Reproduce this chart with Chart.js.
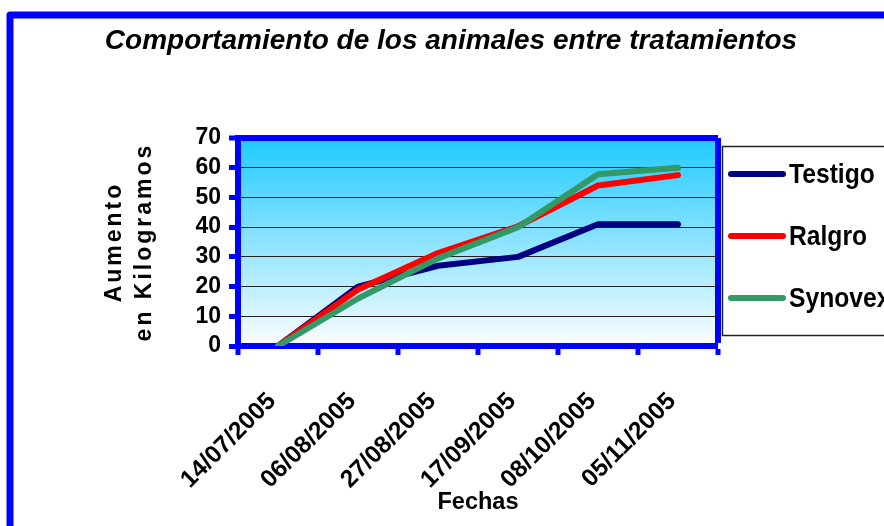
<!DOCTYPE html>
<html>
<head>
<meta charset="utf-8">
<script src="https://cdn.jsdelivr.net/npm/chart.js@4/dist/chart.umd.min.js"></script>
<style>
  html, body { margin: 0; padding: 0; background: #fff; }
  #wrap { width: 884px; height: 526px; }
</style>
</head>
<body>
<div id="wrap"><canvas id="c" width="884" height="526"></canvas></div>
<script>
const categories = ['14/07/2005', '06/08/2005', '27/08/2005', '17/09/2005', '08/10/2005', '05/11/2005'];
const testigo = [0, 20, 27, 30, 41, 41];
const ralgro  = [0, 19, 31.3, 40.3, 54, 57.5];
const synovex = [0, 16, 29.5, 40, 57.8, 60];
const seriesNames = ['Testigo', 'Ralgro', 'Synovex'];
const yMin = 0, yMax = 70, yStep = 10;

const BLUE = '#0000FF';
const FONT = '"Liberation Sans", Arial, sans-serif';

const frameAndBackground = {
  id: 'frameAndBackground',
  beforeDraw(chart) {
    const { ctx, chartArea: a } = chart;
    ctx.save();
    ctx.fillStyle = '#fff';
    ctx.fillRect(0, 0, chart.width, chart.height);
    ctx.strokeStyle = BLUE;
    ctx.lineWidth = 7;
    ctx.lineJoin = 'round';
    ctx.strokeRect(10, 15, chart.width + 40, chart.height + 40);
    const g = ctx.createLinearGradient(0, a.top, 0, a.bottom);
    g.addColorStop(0, 'rgb(30,202,255)');
    g.addColorStop(1, 'rgb(252,253,255)');
    ctx.fillStyle = g;
    ctx.fillRect(a.left, a.top, a.right - a.left, a.bottom - a.top);
    ctx.restore();
    const s = chart.scales.y;
    if (s && !s._spacedTitle) {
      const orig = Chart.Scale.prototype.drawTitle;
      s.drawTitle = function () {
        const c = this.ctx;
        c.save();
        c.letterSpacing = '3px';
        orig.call(this);
        c.restore();
      };
      s._spacedTitle = true;
    }
  }
};

const sideLegend = {
  id: 'sideLegend',
  afterDraw(chart) {
    const { ctx } = chart;
    ctx.save();
    ctx.strokeStyle = '#222';
    ctx.lineWidth = 1.5;
    ctx.strokeRect(722.5, 146.5, 200, 189);
    const rows = [174, 236, 298];
    chart.data.datasets.forEach((ds, i) => {
      const y = rows[i];
      ctx.strokeStyle = ds.borderColor;
      ctx.lineWidth = 6;
      ctx.lineCap = 'round';
      ctx.beginPath();
      ctx.moveTo(731, y);
      ctx.lineTo(783, y);
      ctx.stroke();
      ctx.save();
      ctx.translate(789, y + 1);
      ctx.scale(0.88, 1);
      ctx.fillStyle = '#000';
      ctx.font = 'bold 28px ' + FONT;
      ctx.textBaseline = 'middle';
      ctx.textAlign = 'left';
      ctx.fillText(ds.label, 0, 0);
      ctx.restore();
    });
    ctx.restore();
  }
};

const mk = (label, data, color, order) => ({
  label, data, borderColor: color, backgroundColor: color,
  borderWidth: 6, pointRadius: 0, tension: 0, order,
  borderCapStyle: 'round', borderJoinStyle: 'round', fill: false
});

new Chart(document.getElementById('c'), {
  type: 'line',
  data: {
    labels: categories,
    datasets: [
      mk(seriesNames[0], testigo, '#000080', 3),
      mk(seriesNames[1], ralgro, '#FF0000', 2),
      mk(seriesNames[2], synovex, '#339966', 1)
    ]
  },
  options: {
    responsive: false,
    animation: false,
    devicePixelRatio: 1,
    layout: { padding: { left: 18, right: 0, top: 0, bottom: 0 } },
    plugins: {
      legend: { display: false },
      tooltip: { enabled: false },
      title: {
        display: true,
        text: 'Comportamiento de los animales entre tratamientos',
        color: '#000',
        font: { family: FONT, size: 28, weight: 'bold', style: 'italic', lineHeight: 1.2 },
        padding: { top: 24, bottom: 80.4 }
      }
    },
    scales: {
      x: {
        type: 'category',
        offset: true,
        grid: {
          offset: true,
          drawOnChartArea: true,
          color: c => c.type === 'tick' ? 'rgba(0,0,0,0)' : BLUE,
          lineWidth: c => c.type === 'tick' ? 0 : 6,
          tickColor: BLUE,
          tickWidth: 5,
          tickLength: 9
        },
        border: { display: true, color: BLUE, width: 6 },
        ticks: {
          autoSkip: false,
          maxRotation: 45,
          minRotation: 45,
          color: '#000',
          padding: 32,
          labelOffset: -6,
          font: { family: FONT, size: 24.5, weight: 'bold' }
        },
        title: {
          display: true,
          text: 'Fechas',
          color: '#000',
          font: { family: FONT, size: 23.5, weight: 'bold' },
          padding: { top: 0, bottom: 9 }
        },
        afterFit: s => { s.height = 180; }
      },
      y: {
        type: 'linear',
        min: yMin,
        max: yMax,
        grid: {
          color: c => (c.tick && c.tick.value === yMax) ? BLUE : '#222',
          lineWidth: c => (c.tick && c.tick.value === yMax) ? 6 : 1,
          tickColor: BLUE,
          tickWidth: 5,
          tickLength: 9
        },
        border: { display: true, color: BLUE, width: 6 },
        ticks: {
          stepSize: yStep,
          autoSkip: false,
          color: '#000',
          padding: 8,
          font: { family: FONT, size: 23, weight: 'bold' }
        },
        title: {
          display: true,
          text: ['Aumento', 'en Kilogramos'],
          color: '#000',
          font: { family: FONT, size: 23, weight: 'bold', lineHeight: 1.32 },
          padding: { top: 81, bottom: 0 }
        },
        afterFit: s => { s.width = 220; }
      },
      yRight: {
        type: 'linear',
        position: 'right',
        display: true,
        grid: { display: false, drawTicks: false },
        border: { display: false },
        ticks: { display: false },
        afterFit: s => { s.width = 166; }
      }
    }
  },
  plugins: [frameAndBackground, sideLegend]
});
</script>
</body>
</html>
